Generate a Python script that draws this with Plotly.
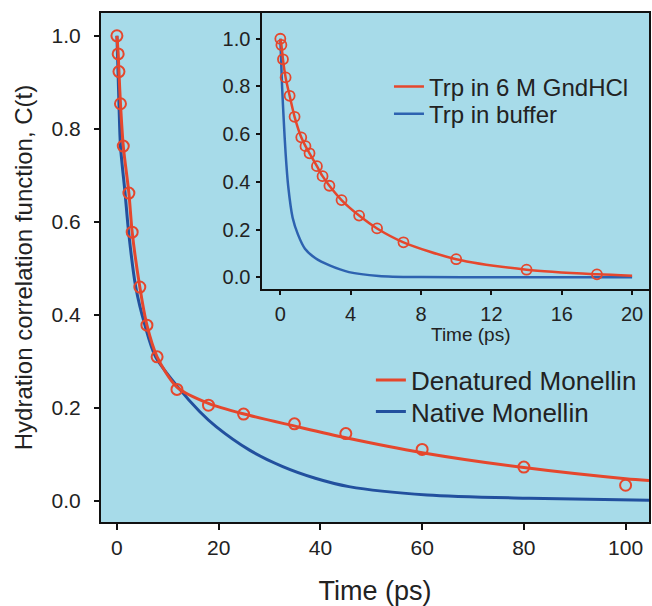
import plotly.graph_objects as go

# ---------------- data ----------------
# main panel: denatured monellin (markers + fit) and native monellin (fit)
main_marker_t = [0, 0.25, 0.4, 0.7, 1.25, 2.35, 3.0, 4.5, 5.9, 7.9, 11.8, 18, 24.9, 34.9, 45, 60, 80, 100]
main_marker_c = [1.0, 0.961, 0.923, 0.854, 0.763, 0.662, 0.578, 0.46, 0.378, 0.31, 0.24, 0.206, 0.187, 0.166, 0.145, 0.111, 0.073, 0.034]

den_fit_t = [0, 0.25, 0.4, 0.7, 1.25, 2.35, 3.0, 4.5, 5.9, 7.9, 11.8, 18, 25, 35, 45, 60, 80, 100, 104.6]
den_fit_c = [1.0, 0.961, 0.923, 0.854, 0.763, 0.662, 0.578, 0.46, 0.378, 0.31, 0.245, 0.21, 0.187, 0.161, 0.136, 0.104, 0.072, 0.048, 0.044]

nat_fit_t = [0, 0.2, 0.4, 0.7, 1.6, 2.3, 3.7, 5.5, 7.6, 12, 16.3, 19.5, 26, 32.6, 39, 45.6, 61, 81, 104.6]
nat_fit_c = [1.0, 0.93, 0.854, 0.763, 0.662, 0.578, 0.46, 0.378, 0.31, 0.245, 0.192, 0.16, 0.11, 0.074, 0.049, 0.031, 0.013, 0.006, 0.002]

# inset: Trp in 6 M GndHCl (markers + fit) and Trp in buffer (fit)
inset_marker_t = [0, 0.06, 0.15, 0.3, 0.53, 0.81, 1.19, 1.43, 1.66, 2.08, 2.4, 2.79, 3.48, 4.48, 5.5, 7.0, 10.0, 14.0, 18.0]
inset_marker_c = [1.0, 0.974, 0.914, 0.838, 0.761, 0.673, 0.587, 0.55, 0.52, 0.466, 0.424, 0.384, 0.324, 0.259, 0.205, 0.147, 0.076, 0.032, 0.0126]

gnd_fit_t = [0, 0.06, 0.15, 0.3, 0.53, 0.81, 1.19, 1.43, 1.66, 2.08, 2.4, 2.79, 3.48, 4.48, 5.5, 7.0, 10.0, 14.0, 18.0, 20.0]
gnd_fit_c = [1.0, 0.974, 0.914, 0.838, 0.761, 0.673, 0.587, 0.55, 0.52, 0.466, 0.424, 0.384, 0.324, 0.259, 0.205, 0.147, 0.076, 0.032, 0.0126, 0.007]

buf_fit_t = [0, 0.05, 0.1, 0.2, 0.3, 0.45, 0.7, 1.0, 1.4, 2.0, 2.8, 3.9, 5.6, 8.0, 12.0, 20.0]
buf_fit_c = [1.0, 0.9, 0.8, 0.65, 0.52, 0.38, 0.25, 0.18, 0.12, 0.08, 0.05, 0.022, 0.006, 0.001, 0.0, 0.0]

main_xticks = [0, 20, 40, 60, 80, 100]
main_yticks = [0.0, 0.2, 0.4, 0.6, 0.8, 1.0]
inset_xticks = [0, 4, 8, 12, 16, 20]
inset_yticks = [0.0, 0.2, 0.4, 0.6, 0.8, 1.0]

# ---------------- styling ----------------
RED = "#e5472d"
BLUE_MAIN = "#22509e"
BLUE_INSET = "#2d62b0"
BG = "#a7dbe9"
INK = "#222222"
FONT = "Liberation Sans, Arial, sans-serif"
NOBG = "rgba(0,0,0,0)"

fig = go.Figure()

# main panel
fig.add_trace(go.Scatter(x=nat_fit_t, y=nat_fit_c, mode="lines", name="Native Monellin",
                         line=dict(color=BLUE_MAIN, width=3, shape="spline", smoothing=0.8),
                         legend="legend2", xaxis="x", yaxis="y"))
fig.add_trace(go.Scatter(x=den_fit_t, y=den_fit_c, mode="lines", name="Denatured Monellin",
                         line=dict(color=RED, width=3, shape="spline", smoothing=0.8),
                         legend="legend", xaxis="x", yaxis="y"))
fig.add_trace(go.Scatter(x=main_marker_t, y=main_marker_c, mode="markers", showlegend=False,
                         marker=dict(symbol="circle-open", size=11, color=RED, line=dict(width=2)),
                         xaxis="x", yaxis="y"))

# inset panel
fig.add_trace(go.Scatter(x=buf_fit_t, y=buf_fit_c, mode="lines", name="Trp in buffer",
                         line=dict(color=BLUE_INSET, width=2.5, shape="spline", smoothing=0.8),
                         legend="legend4", xaxis="x2", yaxis="y2"))
fig.add_trace(go.Scatter(x=gnd_fit_t, y=gnd_fit_c, mode="lines", name="Trp in 6 M GndHCl",
                         line=dict(color=RED, width=2.5, shape="spline", smoothing=0.8),
                         legend="legend3", xaxis="x2", yaxis="y2"))
fig.add_trace(go.Scatter(x=inset_marker_t, y=inset_marker_c, mode="markers", showlegend=False,
                         marker=dict(symbol="circle-open", size=10, color=RED, line=dict(width=1.8)),
                         xaxis="x2", yaxis="y2"))

axis_common = dict(showgrid=False, zeroline=False, showline=True, linecolor="#111111",
                   linewidth=2, mirror=True, ticks="outside", tickcolor="#111111",
                   tickwidth=1.5, tickfont=dict(family=FONT, size=21, color=INK))

main_leg_font = dict(family=FONT, size=26, color=INK)
inset_leg_font = dict(family=FONT, size=24, color=INK)

fig.update_layout(
    width=652, height=606,
    margin=dict(l=101, r=1, t=13, b=84),
    paper_bgcolor="white", plot_bgcolor=BG,
    font=dict(family=FONT, color=INK),
    xaxis=dict(axis_common, domain=[0, 1], range=[-3.13, 104.6], tickvals=main_xticks,
               ticklen=6, ticklabelstandoff=0,
               title=dict(text="Time (ps)", font=dict(family=FONT, size=27, color=INK), standoff=24)),
    yaxis=dict(axis_common, domain=[0, 1], range=[-0.045, 1.049], tickvals=main_yticks,
               tickformat=".1f", ticklen=5, ticklabelstandoff=9,
               title=dict(text="Hydration correlation function, C(t)",
                          font=dict(family=FONT, size=24, color=INK), standoff=12)),
    xaxis2=dict(axis_common, domain=[0.2945, 1], anchor="y2", range=[-1.02, 20.96],
                tickvals=inset_xticks, ticklen=4, ticklabelstandoff=2,
                tickfont=dict(family=FONT, size=20, color=INK)),
    yaxis2=dict(axis_common, domain=[0.4572, 1], anchor="x2", range=[-0.05, 1.108],
                tickvals=inset_yticks, tickformat=".1f", ticklen=4, ticklabelstandoff=2,
                tickfont=dict(family=FONT, size=20, color=INK)),
    legend=dict(x=0.4925, y=0.3251, xanchor="left", yanchor="top", bgcolor=NOBG, font=main_leg_font),
    legend2=dict(x=0.4925, y=0.2631, xanchor="left", yanchor="top", bgcolor=NOBG, font=main_leg_font),
    legend3=dict(x=0.5255, y=0.899, xanchor="left", yanchor="top", bgcolor=NOBG, font=inset_leg_font),
    legend4=dict(x=0.5255, y=0.8454, xanchor="left", yanchor="top", bgcolor=NOBG, font=inset_leg_font),
    annotations=[dict(text="Time (ps)", xref="paper", yref="paper", x=0.676, y=0.3674,
                      xanchor="center", yanchor="middle", showarrow=False,
                      font=dict(family=FONT, size=19, color=INK))],
    showlegend=True,
)

fig.write_html("out.html", config={"displayModeBar": False})

# remove the default page margin so the figure sits at the window's top-left corner
with open("out.html", "r", encoding="utf-8") as f:
    html = f.read()
html = html.replace("<head>", "<head><style>html,body{margin:0;padding:0;overflow:hidden;}</style>", 1)
with open("out.html", "w", encoding="utf-8") as f:
    f.write(html)
